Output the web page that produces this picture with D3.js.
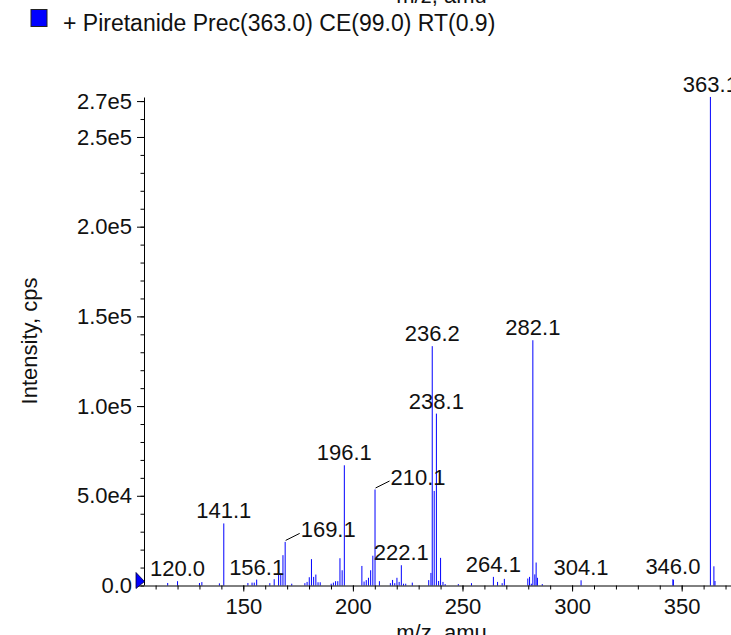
<!DOCTYPE html>
<html>
<head>
<meta charset="utf-8">
<script src="https://cdn.jsdelivr.net/npm/d3@7"></script>
<style>
  html, body { margin: 0; padding: 0; background: #fff; overflow: hidden; }
  svg { display: block; font-family: "Liberation Sans", Arial, Helvetica, sans-serif; }
</style>
</head>
<body>
<svg id="chart" width="731" height="635"></svg>
<script>
// ---- data ----
const legendLabel = "+ Piretanide Prec(363.0) CE(99.0) RT(0.9)";
const xTitle = "m/z, amu";
const yTitle = "Intensity, cps";

const peakMz = [
  115.5, 120.0, 130.0, 131.1, 139.1, 141.1, 152.1, 154.0, 155.0, 156.1,
  162.1, 164.1, 166.1, 167.1, 168.1, 169.1, 172.1, 178.1, 179.1, 180.1,
  181.1, 182.1, 183.1, 184.1, 185.1, 190.1, 191.1, 192.1, 193.1, 194.1,
  195.1, 196.1, 204.1, 205.1, 206.1, 207.1, 208.1, 209.1, 210.1, 212.1,
  217.1, 218.1, 219.1, 220.1, 221.1, 222.1, 223.1, 224.1, 227.1, 234.6,
  235.6, 236.2, 237.1, 238.1, 239.1, 240.0, 241.1, 242.1, 248.1, 254.1,
  264.1, 266.0, 268.1, 269.1, 279.8, 280.6, 281.4, 282.1, 283.0, 283.6,
  284.2, 286.4, 304.1, 346.0, 346.2, 363.1, 364.7, 365.2
];
const peakIntensity = [
  1400, 2400, 1400, 1900, 1200, 34600, 1400, 1600, 1600, 3300,
  1300, 3500, 8500, 6700, 16900, 24300, 1000, 1300, 2000, 4600,
  14700, 4800, 6100, 1800, 1800, 1000, 1600, 2400, 2400, 15200,
  8500, 67000, 10900, 2200, 3000, 4300, 8500, 16600, 53500, 2400,
  1300, 3100, 1300, 4300, 2000, 11300, 1000, 1000, 1600, 3000,
  7000, 133400, 52700, 95800, 2500, 15400, 2000, 800, 800, 1300,
  4800, 2000, 1300, 3700, 3900, 4800, 1000, 136700, 6200, 12800,
  4300, 800, 2900, 3500, 3100, 272300, 10700, 2500
];

const labelMz = [120.0, 141.1, 156.1, 169.1, 196.1, 210.1, 222.1, 236.2, 238.1, 264.1, 282.1, 304.1, 346.0, 363.1];
const leaderLabelMz = [169.1, 210.1];

const xTickValues = [150, 200, 250, 300, 350];
const xMinorTickValues = d3.range(110, 371, 10);
const yTickValues = [0, 50000, 100000, 150000, 200000, 250000, 270000];
const yTickLabels = ["0.0", "5.0e4", "1.0e5", "1.5e5", "2.0e5", "2.5e5", "2.7e5"];
const yMinorTickValues = d3.range(0, 270001, 10000);

// ---- layout ----
const FONT = 22;
const plotLeft = 144, plotBottom = 585.5, plotTop = 97.5, plotRight = 731;
const xDomain = [104.7, 372.5];
const yDomain = [0, 272000];

const svg = d3.select("#chart");
const x = d3.scaleLinear().domain(xDomain).range([plotLeft, plotRight]);
const y = d3.scaleLinear().domain(yDomain).range([plotBottom, plotTop]);

// legend
svg.append("rect")
  .attr("x", 31).attr("y", 9.5).attr("width", 16).attr("height", 17)
  .attr("fill", "#0000ff").attr("stroke", "#222").attr("stroke-width", 1);
svg.append("text")
  .attr("x", 63).attr("y", 30.5)
  .attr("font-size", 23).attr("fill", "#111")
  .text(legendLabel);

// top (clipped) axis title from previous panel
svg.append("text")
  .attr("x", 441.5).attr("y", 3)
  .attr("text-anchor", "middle").attr("font-size", FONT).attr("fill", "#111")
  .text(xTitle);

// peaks
svg.append("g").selectAll("line")
  .data(peakMz.map((m, i) => ({ mz: m, v: peakIntensity[i] })))
  .join("line")
  .attr("x1", d => x(d.mz)).attr("x2", d => x(d.mz))
  .attr("y1", y(0)).attr("y2", d => y(d.v))
  .attr("stroke", "#0000ff").attr("stroke-width", 1);

// axes
const yAxisMinor = d3.axisLeft(y).tickValues(yMinorTickValues).tickSize(3.5).tickFormat("");
const yAxis = d3.axisLeft(y).tickValues(yTickValues).tickSize(7).tickPadding(5)
  .tickFormat((d, i) => yTickLabels[i]);
const xAxisMinor = d3.axisBottom(x).tickValues(xMinorTickValues).tickSize(4).tickFormat("");
const xAxis = d3.axisBottom(x).tickValues(xTickValues).tickSize(6).tickPadding(7)
  .tickFormat(d3.format("d"));

function styleAxis(g) {
  g.selectAll("text").attr("font-size", FONT).attr("fill", "#111")
    .attr("font-family", "Liberation Sans, Arial, sans-serif");
  g.selectAll("line").attr("stroke", "#000");
  g.select(".domain").attr("stroke", "#000");
}

svg.append("g").attr("transform", `translate(${plotLeft},0)`).call(yAxisMinor)
  .call(g => g.select(".domain").remove()).call(styleAxis);
svg.append("g").attr("transform", `translate(${plotLeft},0)`).call(yAxis)
  .call(g => g.select(".domain").attr("d", `M0.5,${plotTop}V${plotBottom}`)).call(styleAxis);
svg.append("g").attr("transform", `translate(0,${plotBottom})`).call(xAxisMinor)
  .call(g => g.select(".domain").remove()).call(styleAxis);
svg.append("g").attr("transform", `translate(0,${plotBottom})`).call(xAxis)
  .call(g => g.select(".domain").attr("d", `M${plotLeft},0.5H${plotRight + 10}`)).call(styleAxis);

// baseline marker triangle
svg.append("path")
  .attr("d", d3.line()([[136, 572.5], [136, 588.5], [144.5, 581.5]]) + "Z")
  .attr("fill", "#0000ff").attr("stroke", "#000033").attr("stroke-width", 0.8);

// axis titles
svg.append("text")
  .attr("x", 441.5).attr("y", 640)
  .attr("text-anchor", "middle").attr("font-size", FONT).attr("fill", "#111")
  .text(xTitle);
svg.append("text")
  .attr("transform", `translate(37,341) rotate(-90)`)
  .attr("text-anchor", "middle").attr("font-size", FONT).attr("fill", "#111")
  .text(yTitle);

// peak labels
const labelG = svg.append("g");
labelMz.forEach(m => {
  const i = peakMz.findIndex(p => Math.abs(p - m) < 1e-6);
  if (i < 0) return;
  const px = x(m), py = y(peakIntensity[i]);
  const txt = m.toFixed(1);
  if (leaderLabelMz.includes(m)) {
    labelG.append("line")
      .attr("x1", px + 0.5).attr("y1", py - 1.5)
      .attr("x2", px + 14.5).attr("y2", py - 8.5)
      .attr("stroke", "#000").attr("stroke-width", 1);
    labelG.append("text")
      .attr("x", px + 15.5).attr("y", py - 4.5)
      .attr("font-size", FONT).attr("fill", "#111")
      .text(txt);
  } else {
    labelG.append("text")
      .attr("x", px).attr("y", py - 5)
      .attr("text-anchor", "middle")
      .attr("font-size", FONT).attr("fill", "#111")
      .text(txt);
  }
});
</script>
</body>
</html>
